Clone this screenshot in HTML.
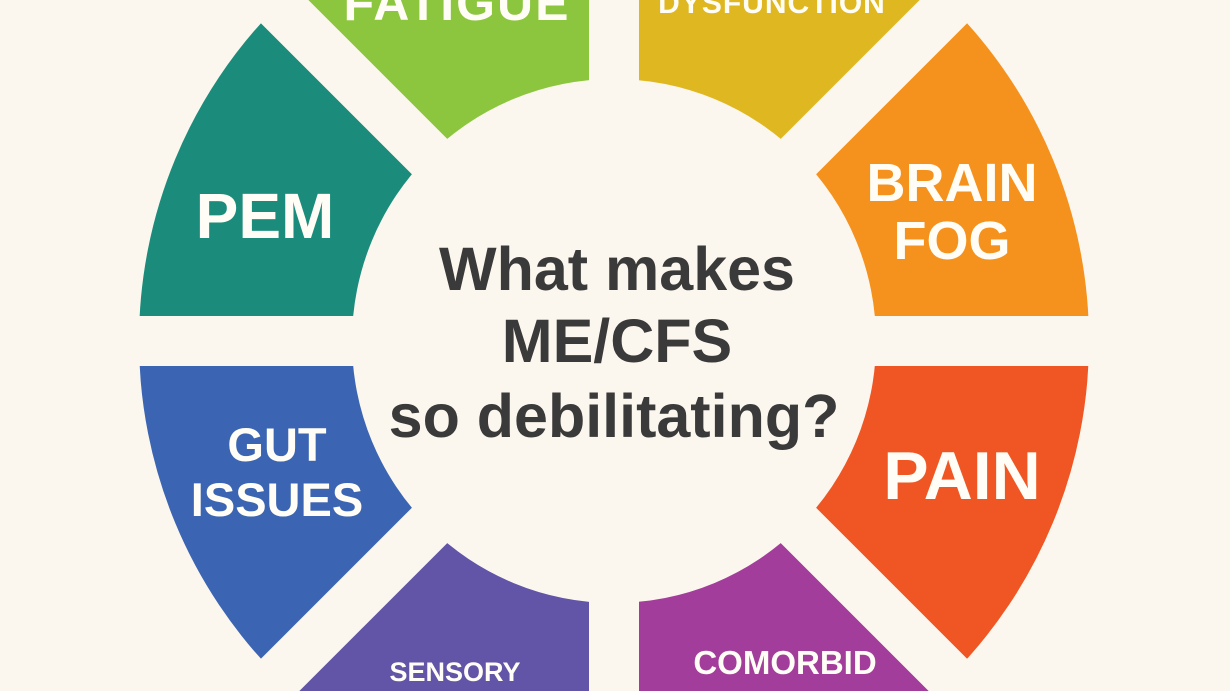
<!DOCTYPE html>
<html><head><meta charset="utf-8"><style>
html,body{margin:0;padding:0;background:#fcf7ee;width:1230px;height:691px;overflow:hidden}
svg{display:block}
text{font-family:"Liberation Sans",sans-serif;font-weight:bold;text-anchor:middle}
</style></head><body>
<svg width="1230" height="691" viewBox="0 0 1230 691" xmlns="http://www.w3.org/2000/svg">
<rect width="1230" height="691" fill="#fcf7ee"/>
<g transform="translate(614,341)">
<path d="M0,-475 A475,475 0 0 1 335.9,-335.9 L185.3,-185.3 A262,262 0 0 0 0,-262 Z" fill="#dfb821"/>
<path d="M335.9,-335.9 A475,475 0 0 1 475,0 L262,0 A262,262 0 0 0 185.3,-185.3 Z" fill="#f5921e"/>
<path d="M475,0 A475,475 0 0 1 335.9,335.9 L185.3,185.3 A262,262 0 0 0 262,0 Z" fill="#ef5624"/>
<path d="M335.9,335.9 A475,475 0 0 1 0,475 L0,262 A262,262 0 0 0 185.3,185.3 Z" fill="#a23d9c"/>
<path d="M0,475 A475,475 0 0 1 -335.9,335.9 L-185.3,185.3 A262,262 0 0 0 0,262 Z" fill="#6254a6"/>
<path d="M-335.9,335.9 A475,475 0 0 1 -475,0 L-262,0 A262,262 0 0 0 -185.3,185.3 Z" fill="#3b65b3"/>
<path d="M-475,0 A475,475 0 0 1 -335.9,-335.9 L-185.3,-185.3 A262,262 0 0 0 -262,0 Z" fill="#1b8c7b"/>
<path d="M-335.9,-335.9 A475,475 0 0 1 0,-475 L0,-262 A262,262 0 0 0 -185.3,-185.3 Z" fill="#8cc63f"/>
<g stroke="#fcf7ee" stroke-width="50">
<line x1="0" y1="-500" x2="0" y2="500"/>
<line x1="-500" y1="0" x2="500" y2="0"/>
<line x1="-360" y1="-360" x2="360" y2="360"/>
<line x1="-360" y1="360" x2="360" y2="-360"/>
</g>
</g>
<g fill="#fffdf5">
<text x="457" y="20" font-size="50" letter-spacing="2">FATIGUE</text>
<text x="772" y="13" font-size="30" letter-spacing="1">DYSFUNCTION</text>
<text x="265" y="238" font-size="64">PEM</text>
<text x="952" y="201" font-size="54">BRAIN</text>
<text x="952" y="259" font-size="54">FOG</text>
<text x="962" y="499" font-size="68">PAIN</text>
<text x="277" y="461" font-size="47">GUT</text>
<text x="277" y="516" font-size="47">ISSUES</text>
<text x="455" y="681" font-size="27">SENSORY</text>
<text x="785" y="674" font-size="33">COMORBID</text>
</g>
<g fill="#3a3a3a">
<text x="617" y="290" font-size="61">What makes</text>
<text x="617" y="362" font-size="61">ME/CFS</text>
<text x="614" y="437" font-size="61">so debilitating?</text>
</g>
</svg>
</body></html>
